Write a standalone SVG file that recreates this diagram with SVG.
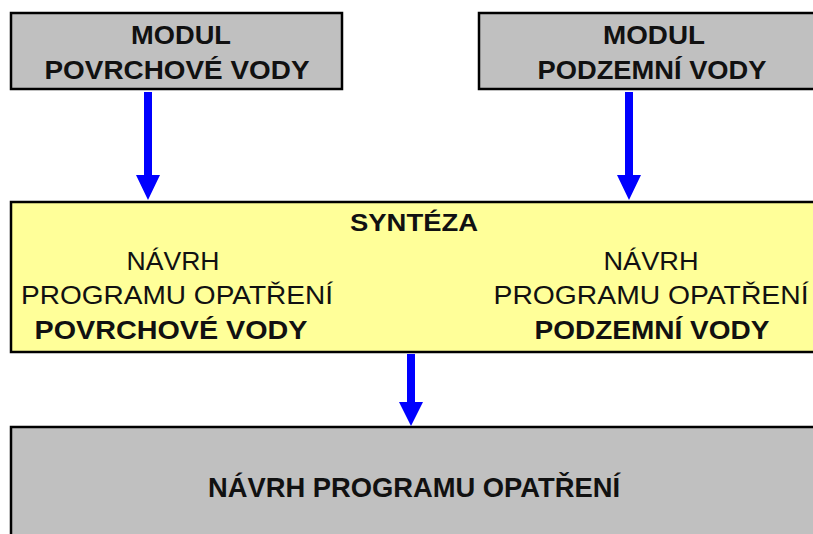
<svg xmlns="http://www.w3.org/2000/svg" width="813" height="534" viewBox="0 0 813 534">
<style>
.gray{fill:#c0c0c0;stroke:#000;stroke-width:2.5}
.yellow{fill:#ffff99;stroke:#000;stroke-width:2.5}
.t{font-family:"Liberation Sans",Arial,sans-serif;fill:#111;text-anchor:middle}
.b{font-weight:bold}
.arrow{fill:#0000ff}
</style>
<rect width="813" height="534" fill="#fff"/>
<g id="modul-povrchove">
<rect class="gray" x="11" y="13" width="331" height="76"/>
<text class="t b" x="181" y="44" font-size="26" textLength="100" lengthAdjust="spacingAndGlyphs">MODUL</text>
<text class="t b" x="177" y="79" font-size="26" textLength="265" lengthAdjust="spacingAndGlyphs">POVRCHOVÉ VODY</text>
</g>
<g id="modul-podzemni">
<rect class="gray" x="479" y="13" width="346" height="76"/>
<text class="t b" x="654" y="44" font-size="26" textLength="102" lengthAdjust="spacingAndGlyphs">MODUL</text>
<text class="t b" x="652" y="79" font-size="26" textLength="229" lengthAdjust="spacingAndGlyphs">PODZEMNÍ VODY</text>
</g>
<g id="synteza">
<rect class="yellow" x="11" y="202" width="814" height="150"/>
<text class="t b" x="414" y="231" font-size="23" textLength="128" lengthAdjust="spacingAndGlyphs">SYNTÉZA</text>
<text class="t" x="173" y="270" font-size="25" textLength="93" lengthAdjust="spacingAndGlyphs">NÁVRH</text>
<text class="t" x="177" y="304" font-size="25" textLength="312" lengthAdjust="spacingAndGlyphs">PROGRAMU OPATŘENÍ</text>
<text class="t b" x="171" y="339" font-size="25" textLength="273" lengthAdjust="spacingAndGlyphs">POVRCHOVÉ VODY</text>
<text class="t" x="651" y="270" font-size="25" textLength="95" lengthAdjust="spacingAndGlyphs">NÁVRH</text>
<text class="t" x="651" y="304" font-size="25" textLength="315" lengthAdjust="spacingAndGlyphs">PROGRAMU OPATŘENÍ</text>
<text class="t b" x="652" y="339" font-size="25" textLength="235" lengthAdjust="spacingAndGlyphs">PODZEMNÍ VODY</text>
</g>
<g id="navrh-programu">
<rect class="gray" x="11" y="427" width="814" height="120"/>
<text class="t b" x="414" y="497" font-size="28" textLength="412" lengthAdjust="spacingAndGlyphs">NÁVRH PROGRAMU OPATŘENÍ</text>
</g>
<g id="connectors">
<polygon class="arrow" points="144,92 152,92 152,175 160,175 148,200 136,175 144,175"/>
<polygon class="arrow" points="625,92 633,92 633,175 641,175 629,200 617,175 625,175"/>
<polygon class="arrow" points="407,354 415,354 415,402 423,402 411,426 399,402 407,402"/>
</g>
</svg>
